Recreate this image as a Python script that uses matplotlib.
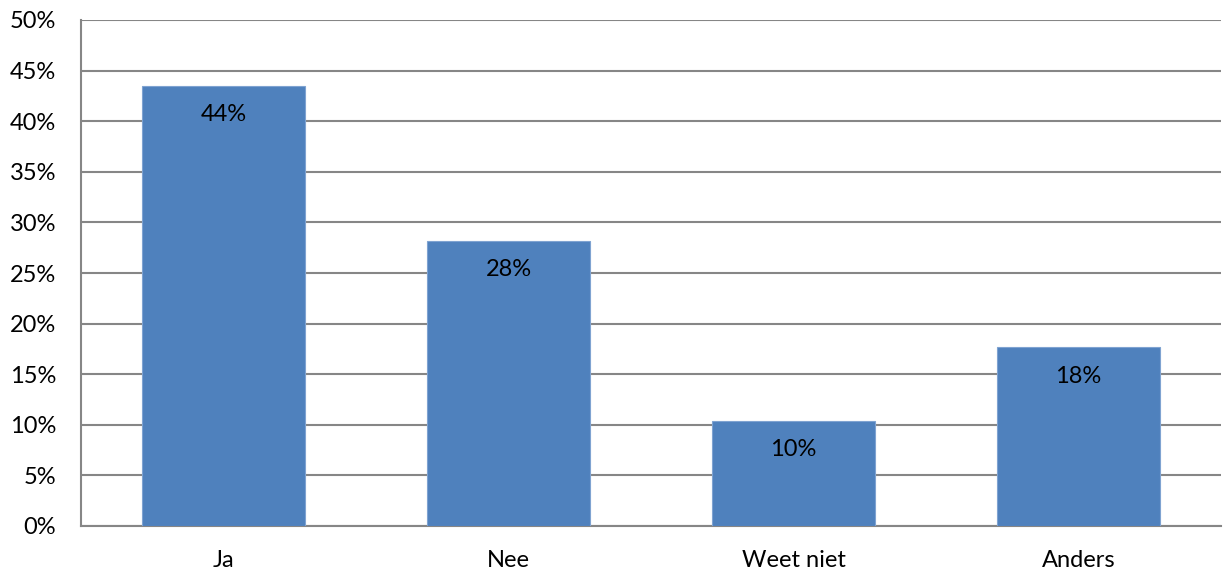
import matplotlib
matplotlib.use("Agg")
import matplotlib.pyplot as plt
from matplotlib.ticker import FuncFormatter, MultipleLocator

categories = ["Ja", "Nee", "Weet niet", "Anders"]
values = [43.5, 28.2, 10.4, 17.7]
labels = ["44%", "28%", "10%", "18%"]

plt.rcParams['font.family'] = ['Lato', 'DejaVu Sans']

fig = plt.figure(figsize=(12.23, 5.71), dpi=100)
ax = fig.add_axes([81/1223, 45/571, 1140/1223, 506/571])

x = list(range(len(categories)))
bars = ax.bar(x, values, width=0.57, color="#4F81BD", edgecolor="#7FA3D1", linewidth=0.8, zorder=3)
ax.set_xlim(-0.5, len(categories) - 0.5)
ax.set_ylim(0, 50)
ax.yaxis.set_major_locator(MultipleLocator(5))
ax.yaxis.set_major_formatter(FuncFormatter(lambda v, p: f"{int(round(v))}%"))
ax.set_xticks(x)
ax.set_xticklabels(categories)
ax.grid(axis="y", color="#868686", linewidth=1.5, zorder=0)
for s in ["top", "right"]:
    ax.spines[s].set_visible(False)
for s in ["left", "bottom"]:
    ax.spines[s].set_color("#868686")
    ax.spines[s].set_linewidth(1.5)
ax.tick_params(axis="y", length=0, pad=18, labelsize=17)
ax.tick_params(axis="x", length=0, pad=17, labelsize=17)

for xi, v, lab in zip(x, values, labels):
    ax.annotate(lab, (xi, v), xytext=(0, -21), textcoords="offset points",
                ha="center", va="center", fontsize=17, color="black", zorder=4)

fig.savefig("out.png", dpi=100)
